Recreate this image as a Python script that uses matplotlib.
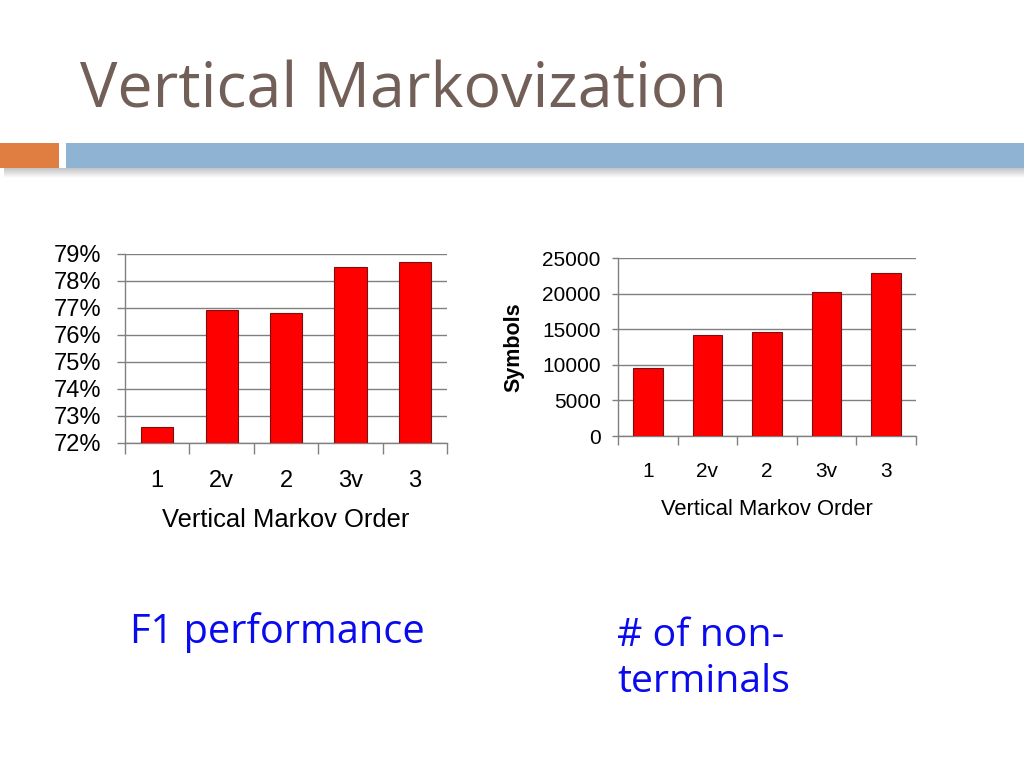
import numpy as np
import matplotlib.pyplot as plt
from matplotlib.patches import Rectangle

# slide text
title = "Vertical Markovization"
caption_left = "F1 performance"
caption_right = "# of non-\nterminals"

# shared categories
orders = ["1", "2v", "2", "3v", "3"]

# left chart: F1 (%)
f1_values = [72.6, 76.93, 76.83, 78.53, 78.7]
f1_ticks = [72, 73, 74, 75, 76, 77, 78, 79]

# right chart: number of symbols
symbol_counts = [9550, 14150, 14600, 20200, 22850]
symbol_ticks = [0, 5000, 10000, 15000, 20000, 25000]

W, H = 1024, 768
fig = plt.figure(figsize=(W / 100, H / 100), dpi=100)

def px_axes(x0, y0, x1, y1):
    return fig.add_axes([x0 / W, 1 - y1 / H, (x1 - x0) / W, (y1 - y0) / H])

# background decoration: title + header bar
deco = fig.add_axes([0, 0, 1, 1])
deco.set_xlim(0, W)
deco.set_ylim(H, 0)
deco.axis("off")
deco.text(80, 107, title, fontsize=45.2, color="#725f57",
          family=["Open Sans", "DejaVu Sans"], va="baseline", ha="left")
for i, a in enumerate(np.linspace(0.45, 0.02, 10)):
    deco.add_patch(Rectangle((4, 168 + i), W, 1, color="#808080", alpha=a, lw=0))
deco.add_patch(Rectangle((0, 143), 59, 25, color="#e07d40", lw=0))
deco.add_patch(Rectangle((66, 143), W - 66, 25, color="#8fb3d2", lw=0))
deco.text(130, 643, caption_left, fontsize=28.6, color="#0a0aee",
          family=["Open Sans", "DejaVu Sans"], va="baseline")
deco.text(617, 692, caption_right, fontsize=28.3, color="#0a0aee",
          family=["Open Sans", "DejaVu Sans"], va="baseline", linespacing=1.26)


def bar_chart(ax, values, yticks, ylabels, fs, lfs, tick_len, ypad, xpad, lpad):
    x = np.arange(len(orders))
    ax.bar(x, values, width=0.5, color="#ff0000", edgecolor="#7a1010", linewidth=0.8,
           zorder=3)
    ax.set_xlim(-0.5, len(orders) - 0.5)
    ax.set_ylim(yticks[0], yticks[-1])
    ax.set_yticks(yticks)
    ax.set_yticklabels(ylabels, fontsize=fs, family="Liberation Sans")
    ax.set_xticks(x)
    ax.set_xticklabels(orders, fontsize=fs, family="Liberation Sans")
    ax.set_xticks(np.arange(len(orders) + 1) - 0.5, minor=True)
    ax.tick_params(axis="x", which="major", length=0, pad=xpad)
    ax.tick_params(axis="x", which="minor", length=tick_len + 2, color="#808080",
                   width=1, direction="out")
    ax.tick_params(axis="y", length=tick_len, color="#808080", width=1, pad=ypad)
    ax.grid(axis="y", color="#808080", linewidth=1, zorder=0)
    for s in ["top", "right"]:
        ax.spines[s].set_visible(False)
    for s in ["left", "bottom"]:
        ax.spines[s].set_color("#808080")
        ax.spines[s].set_linewidth(1)
    ax.set_xlabel("Vertical Markov Order", fontsize=lfs, family="Liberation Sans",
                  labelpad=lpad)
    ax.set_facecolor("none")


ax1 = px_axes(125, 254, 447, 443)
bar_chart(ax1, f1_values, f1_ticks, [f"{t}%" for t in f1_ticks], 17, 18.4, 6, 11, 19.5, 11.5)

ax2 = px_axes(618, 258, 916, 436)
bar_chart(ax2, symbol_counts, symbol_ticks, [str(t) for t in symbol_ticks], 15, 15.8, 4.5, 8, 18.5, 13.5)
ax2.set_ylabel("Symbols", fontsize=15.5, fontweight="bold", family="Liberation Sans",
               labelpad=13)

fig.savefig("out.png", dpi=100)
